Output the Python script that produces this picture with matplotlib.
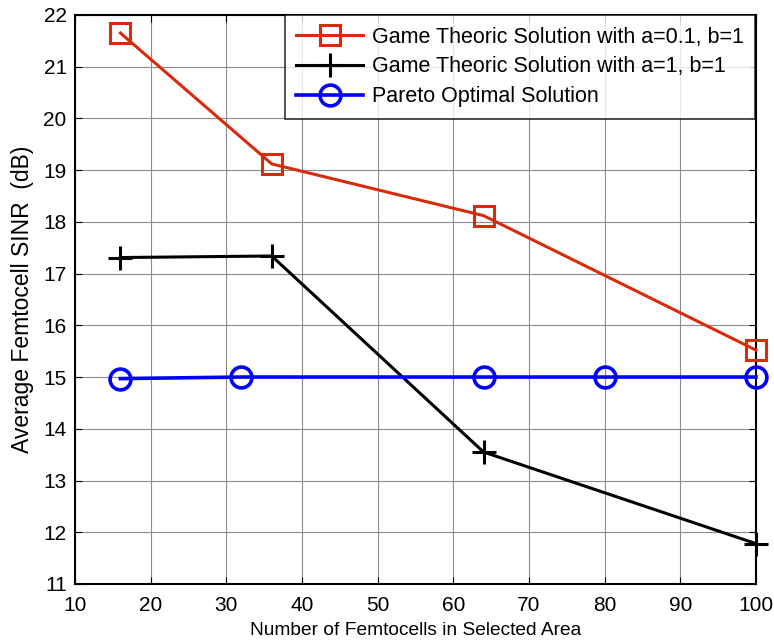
import matplotlib
matplotlib.use("Agg")
import matplotlib.pyplot as plt

plt.rcParams['font.family'] = ['Liberation Sans', 'DejaVu Sans']

x_red = [16, 36, 64, 100]
y_red = [21.65, 19.12, 18.12, 15.52]
x_black = [16, 36, 64, 100]
y_black = [17.31, 17.34, 13.55, 11.78]
x_blue = [16, 32, 64, 80, 100]
y_blue = [14.97, 15.0, 15.0, 15.0, 15.0]

labels = ['Game Theoric Solution with a=0.1, b=1',
          'Game Theoric Solution with a=1, b=1',
          'Pareto Optimal Solution']
xticks = [10, 20, 30, 40, 50, 60, 70, 80, 90, 100]
yticks = [11, 12, 13, 14, 15, 16, 17, 18, 19, 20, 21, 22]

fig = plt.figure(figsize=(7.74, 6.43), dpi=100)
ax = fig.add_axes([0.0969, 0.0918, 0.8798, 0.885])

ax.plot(x_red, y_red, color='#d92b0c', lw=2.2, marker='s', markersize=14,
        markerfacecolor='none', markeredgewidth=2.2, label=labels[0], clip_on=False, zorder=3)
ax.plot(x_black, y_black, color='black', lw=2.2, marker='+', markersize=17,
        markeredgewidth=2.2, label=labels[1], clip_on=False, zorder=3)
ax.plot(x_blue, y_blue, color='#0000ff', lw=2.6, marker='o', markersize=15,
        markerfacecolor='none', markeredgewidth=2.6, label=labels[2], clip_on=False, zorder=3)

ax.set_xlim(10, 100)
ax.set_ylim(11, 22)
ax.set_xticks(xticks)
ax.set_yticks(yticks)
ax.grid(True, color='#8a8a8a', lw=0.8)
ax.tick_params(direction='in', length=5, labelsize=15, top=True, right=True)
ax.tick_params(axis='y', pad=6)
ax.tick_params(axis='x', pad=8.5)
for s in ax.spines.values():
    s.set_linewidth(1.5)
ax.set_xlabel('Number of Femtocells in Selected Area', fontsize=13.8, labelpad=5)
ax.set_ylabel('Average Femtocell SINR  (dB)', fontsize=16.5, labelpad=7)

leg = ax.legend(loc='upper right', fontsize=15.5, frameon=True, fancybox=False,
                edgecolor='black', borderaxespad=0.0, handlelength=3.1,
                handletextpad=0.4, labelspacing=0.41, borderpad=0.54,
                bbox_to_anchor=(0.999, 1.0))
leg.get_frame().set_linewidth(1.2)

fig.savefig('out.png', dpi=100)
